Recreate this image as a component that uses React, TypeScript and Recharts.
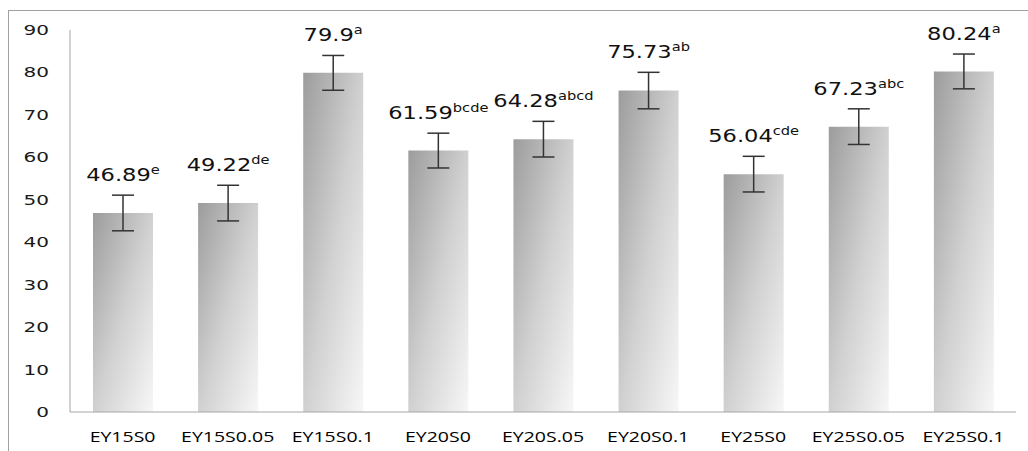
import React from 'react';
import { BarChart, Bar, XAxis, YAxis, ErrorBar, LabelList } from 'recharts';

const categories = [
  'EY15S0',
  'EY15S0.05',
  'EY15S0.1',
  'EY20S0',
  'EY20S.05',
  'EY20S0.1',
  'EY25S0',
  'EY25S0.05',
  'EY25S0.1',
];
const means = [46.89, 49.22, 79.9, 61.59, 64.28, 75.73, 56.04, 67.23, 80.24];
const errors = [4.2, 4.2, 4.1, 4.1, 4.2, 4.3, 4.2, 4.2, 4.1];
const letters = ['e', 'de', 'a', 'bcde', 'abcd', 'ab', 'cde', 'abc', 'a'];
const yTicks = [0, 10, 20, 30, 40, 50, 60, 70, 80, 90];

const data = categories.map((name, i) => ({
  name,
  value: means[i],
  err: errors[i],
}));

const YTick = (props: any) => {
  const { y, payload } = props;
  return (
    <text
      transform={`translate(41,${y}) scale(1.38,1)`}
      textAnchor="end"
      dy={5}
      fontFamily="DejaVu Sans"
      fontSize={14.5}
      fill="#1a1a1a"
    >
      {payload.value}
    </text>
  );
};

const XTick = (props: any) => {
  const { x, y, payload } = props;
  return (
    <text
      transform={`translate(${x},${y}) scale(1.3,1)`}
      textAnchor="middle"
      dy={22}
      fontFamily="Open Sans"
      fontSize={15}
      fill="#000"
    >
      {payload.value}
    </text>
  );
};

const ValueLabel = (props: any) => {
  const { x, y, width, height, value, index } = props;
  const perUnit = height / value;
  const top = y - errors[index] * perUnit;
  return (
    <text
      transform={`translate(${x + width / 2},${top - 14}) scale(1.22,1)`}
      textAnchor="middle"
      fontFamily="DejaVu Sans"
      fontSize={18.5}
      fill="#111"
    >
      <tspan>{value}</tspan>
      <tspan fontSize={12} dy={-7}>
        {letters[index]}
      </tspan>
    </text>
  );
};

export default function App() {
  return (
    <div
      style={{
        position: 'absolute',
        left: 8,
        top: 10,
        width: 1020,
        height: 441,
        overflow: 'hidden',
        background: '#fff',
      }}
    >
      <div
        style={{
          position: 'absolute',
          left: 0,
          top: 0,
          width: 1040,
          height: 470,
          border: '1px solid #a0a0a0',
          boxSizing: 'border-box',
        }}
      />
      <BarChart
        width={1020}
        height={441}
        data={data}
        margin={{ top: 20, right: 12, bottom: 9, left: 2 }}
        barSize={60}
      >
        <defs>
          <linearGradient id="barFill" x1="0" y1="0" x2="1" y2="1">
            <stop offset="0%" stopColor="#9c9c9c" />
            <stop offset="50%" stopColor="#d0d0d0" />
            <stop offset="100%" stopColor="#f7f7f7" />
          </linearGradient>
        </defs>
        <XAxis
          dataKey="name"
          height={30}
          tickLine={false}
          axisLine={{ stroke: '#a6a6a6' }}
          tick={<XTick />}
          interval={0}
        />
        <YAxis
          width={60}
          domain={[0, 90]}
          ticks={yTicks}
          tickLine={false}
          axisLine={{ stroke: '#a6a6a6' }}
          tick={<YTick />}
        />
        <Bar dataKey="value" fill="url(#barFill)" isAnimationActive={false}>
          <ErrorBar
            dataKey="err"
            direction="y"
            width={11}
            stroke="#333"
            strokeWidth={1.5}
          />
          <LabelList dataKey="value" content={<ValueLabel />} />
        </Bar>
      </BarChart>
    </div>
  );
}
